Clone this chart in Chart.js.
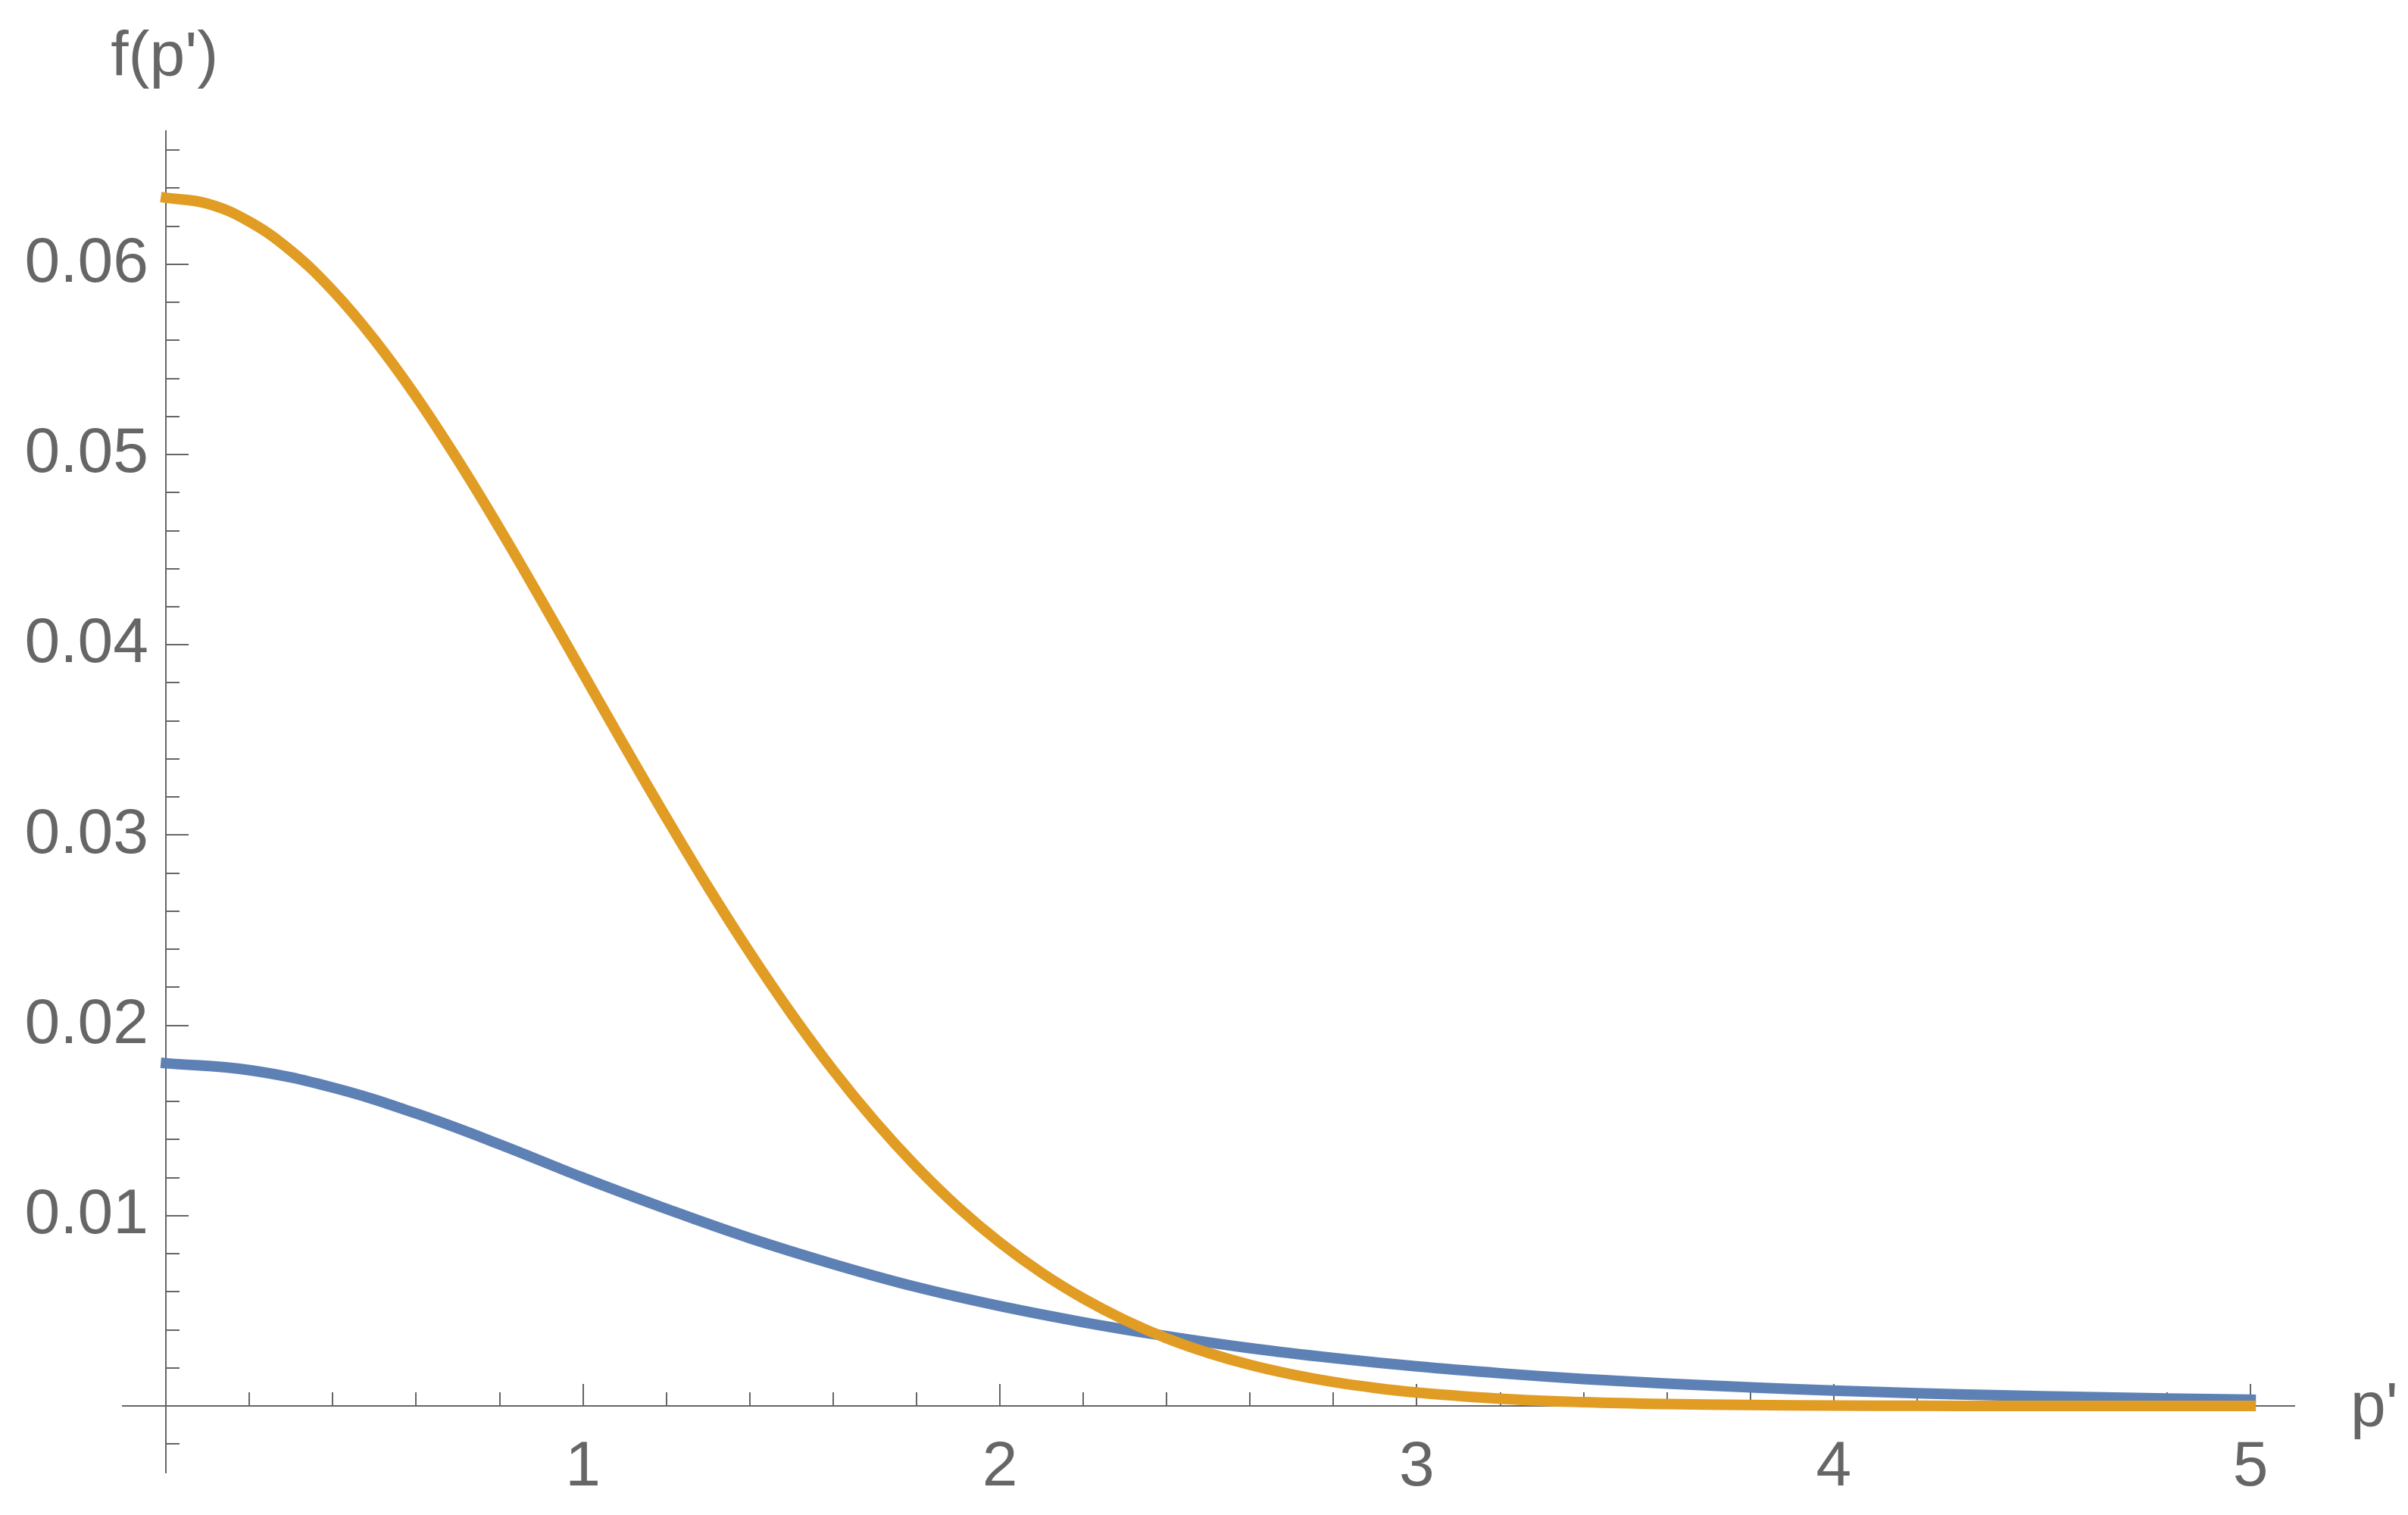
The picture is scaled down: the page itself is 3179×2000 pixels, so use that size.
<!DOCTYPE html>
<html>
<head>
<meta charset="utf-8">
<title>f(p')</title>
<script src="https://cdn.jsdelivr.net/npm/chart.js@4.4.0/dist/chart.umd.min.js"></script>
<style>
  html, body { margin: 0; padding: 0; background: #ffffff; }
  canvas { display: block; }
</style>
</head>
<body>
<canvas id="graphe" width="3179" height="2000"></canvas>
<script>
// valeurs (p' en abscisse, f(p') en ordonnee)
const pOrange = [0, 0.1, 0.2, 0.3, 0.4, 0.5, 0.6, 0.7, 0.8, 0.9, 1.0,
                 1.1, 1.2, 1.3, 1.4, 1.5, 1.6, 1.7, 1.8, 1.9, 2.0,
                 2.1, 2.2, 2.3, 2.4, 2.5, 2.6, 2.7, 2.8, 2.9, 3.0,
                 3.2, 3.4, 3.6, 3.8, 4.0, 4.2, 4.4, 4.6, 4.8, 5.0];
const fOrange = [0.06349, 0.06318, 0.06224, 0.06070, 0.05861, 0.05603, 0.05304, 0.04970, 0.04611, 0.04235, 0.03851,
                 0.03467, 0.03091, 0.02727, 0.02383, 0.02061, 0.01765, 0.01497, 0.01257, 0.01044, 0.00859,
                 0.00700, 0.00565, 0.00451, 0.00356, 0.00279, 0.00216, 0.00166, 0.00126, 0.00095, 0.00071,
                 0.00038, 0.00020, 0.00010, 0.00005, 0.00002, 0.00001, 0.000004, 0.000002, 0.000001, 0.0000002];

const pBleu = [0, 0.2, 0.4, 0.6, 0.8, 1.0, 1.2, 1.4, 1.6, 1.8, 2.0,
               2.2, 2.4, 2.6, 2.8, 3.0, 3.2, 3.4, 3.6, 3.8, 4.0,
               4.2, 4.4, 4.6, 4.8, 5.0];
const fBleu = [0.01801, 0.01765, 0.01673, 0.01537, 0.01375, 0.01200, 0.01036, 0.00882, 0.00746, 0.00625, 0.00525,
               0.00440, 0.00367, 0.00304, 0.00252, 0.00208, 0.00172, 0.00142, 0.00118, 0.00098, 0.00081,
               0.00067, 0.00056, 0.00047, 0.00039, 0.00033];

// graduations
const xMajeures = [1, 2, 3, 4, 5];
const xMineures = [0.2, 0.4, 0.6, 0.8, 1.2, 1.4, 1.6, 1.8, 2.2, 2.4, 2.6, 2.8,
                   3.2, 3.4, 3.6, 3.8, 4.2, 4.4, 4.6, 4.8];
const yMajeures = [0.01, 0.02, 0.03, 0.04, 0.05, 0.06];
const yMineures = [-0.002, 0.002, 0.004, 0.006, 0.008, 0.012, 0.014, 0.016, 0.018,
                   0.022, 0.024, 0.026, 0.028, 0.032, 0.034, 0.036, 0.038,
                   0.042, 0.044, 0.046, 0.048, 0.052, 0.054, 0.056, 0.058,
                   0.062, 0.064, 0.066];

const titreX = "p'";
const titreY = "f(p')";

const gris = '#666666';
const police = '"Liberation Sans", Arial, sans-serif';

// texte des axes (a cote des axes comme dans Mathematica)
const titresAxes = {
  id: 'titresAxes',
  afterDraw(chart) {
    const ctx = chart.ctx;
    const sx = chart.scales.x;
    const sy = chart.scales.y;
    ctx.save();
    ctx.fillStyle = gris;
    ctx.font = '84px ' + police;
    ctx.textBaseline = 'alphabetic';
    ctx.textAlign = 'center';
    ctx.fillText(titreY, sx.getPixelForValue(0) - 2, sy.top - 73);
    ctx.textAlign = 'left';
    ctx.fillText(titreX, sx.right + 74, sy.getPixelForValue(0) + 27);
    ctx.restore();
  }
};

const versTicks = (liste) => (scale) => { scale.ticks = liste.map(v => ({value: v})); };

const axe = (axis, pos, min, max, liste, longueur, avecLabels, bordure) => ({
  type: 'linear',
  axis: axis,
  position: pos,
  min: min,
  max: max,
  z: 1,
  afterBuildTicks: versTicks(liste),
  grid: {
    drawOnChartArea: false,
    drawTicks: true,
    tickLength: longueur,
    color: gris,
    lineWidth: 2
  },
  border: { display: bordure, color: gris, width: 2 },
  ticks: {
    display: avecLabels,
    color: gris,
    font: { family: police, size: 84 },
    // l'axe y place ses labels contre l'axe, le padding ne sert qu'en x
    padding: axis === 'x' ? 61 : 0,
    maxRotation: 0,
    autoSkip: false,
    callback: axis === 'y' ? (v => v.toFixed(2) + ' ') : (v => String(v))
  }
});

const xMin = -0.104, xMax = 5.105;
const yMin = -0.0035, yMax = 0.067;

new Chart(document.getElementById('graphe'), {
  type: 'line',
  data: {
    datasets: [
      {
        label: 'bleu',
        data: pBleu.map((p, i) => ({x: p, y: fBleu[i]})),
        borderColor: '#5E81B5',
        borderWidth: 14,
        borderCapStyle: 'square',
        pointRadius: 0,
        fill: false,
        tension: 0.4,
        order: 2
      },
      {
        label: 'orange',
        data: pOrange.map((p, i) => ({x: p, y: fOrange[i]})),
        borderColor: '#E19C24',
        borderWidth: 14,
        borderCapStyle: 'square',
        pointRadius: 0,
        fill: false,
        tension: 0.4,
        order: 1
      }
    ]
  },
  options: {
    responsive: false,
    devicePixelRatio: 1,
    animation: false,
    layout: { padding: { left: 162, right: 150, top: 173, bottom: 56 } },
    plugins: { legend: { display: false }, tooltip: { enabled: false }, title: { display: false } },
    scales: {
      x: axe('x', {y: 0}, xMin, xMax, xMajeures, -30, true, true),
      x2: axe('x', {y: 0}, xMin, xMax, xMineures, -18, false, false),
      y: axe('y', {x: 0}, yMin, yMax, yMajeures, -31, true, true),
      y2: axe('y', {x: 0}, yMin, yMax, yMineures, -18, false, false)
    }
  },
  plugins: [titresAxes]
});
</script>
</body>
</html>
